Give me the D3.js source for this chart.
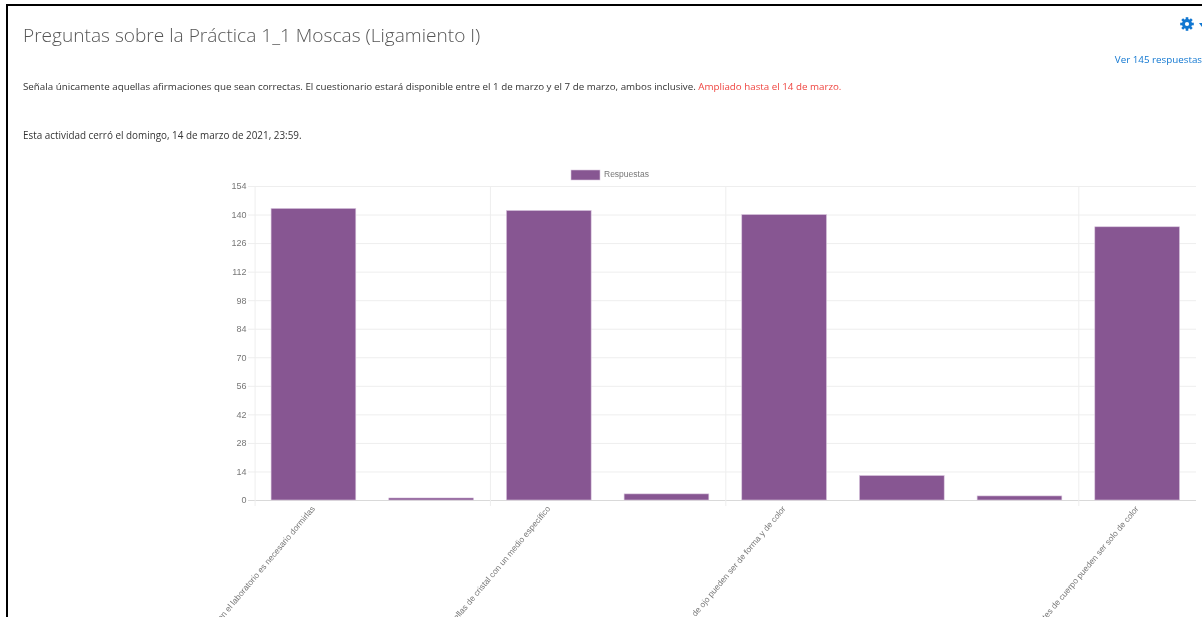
<!DOCTYPE html>
<html>
<head>
<meta charset="utf-8">
<script src="https://d3js.org/d3.v7.min.js"></script>
<style>
    html, body { margin: 0; padding: 0; background: white; overflow: hidden; }
    svg { display: block; filter: blur(0.4px); }
    .page text { font-family: "Open Sans", sans-serif; }
    .chart text { font-family: "Liberation Sans", Arial, sans-serif; fill: #777; }
</style>
</head>
<body>
<div id="chart"></div>
<script>
var categories = ["c1", "c2", "c3", "c4", "c5", "c6", "c7", "c8"];
var respuestas = [143, 1, 142, 3, 140, 12, 2, 134];

// solo estas categorias llevan etiqueta y linea vertical
var labeledCategories = ["c1", "c3", "c5", "c8"];
var categoryLabels = [
    "en el laboratorio es necesario dormirlas",
    "botellas de cristal con un medio específico",
    "de ojo pueden ser de forma y de color",
    "mutantes de cuerpo pueden ser solo de color"
];
var yTicks = [0, 14, 28, 42, 56, 70, 84, 98, 112, 126, 140, 154];
var seriesName = "Respuestas";

var width = 1202;
var height = 617;
var blue = "#1177d1";

var svg = d3.select("#chart")
    .append("svg")
    .attr("width", width)
    .attr("height", height);

// marco negro de la captura
svg.append("rect").attr("x", 6).attr("y", 4).attr("width", width).attr("height", 2).attr("fill", "#000");
svg.append("rect").attr("x", 6).attr("y", 4).attr("width", 2).attr("height", height).attr("fill", "#000");

// cabecera de la pagina
var page = svg.append("g").attr("class", "page");

page.append("text")
    .attr("x", 23).attr("y", 42)
    .attr("font-size", 19.1).attr("font-weight", 300)
    .attr("fill", "#555")
    .text("Preguntas sobre la Práctica 1_1 Moscas (Ligamiento I)");

var intro = page.append("text")
    .attr("x", 23).attr("y", 89.5)
    .attr("font-size", 9.78)
    .attr("fill", "#333");
intro.append("tspan")
    .text("Señala únicamente aquellas afirmaciones que sean correctas. El cuestionario estará disponible entre el 1 de marzo y el 7 de marzo, ambos inclusive. ");
intro.append("tspan")
    .attr("fill", "#ef4540")
    .text("Ampliado hasta el 14 de marzo.");

page.append("text")
    .attr("x", 23).attr("y", 138.5)
    .attr("font-size", 9.88)
    .attr("fill", "#333")
    .text("Esta actividad cerró el domingo, 14 de marzo de 2021, 23:59.");

page.append("text")
    .attr("x", 1202).attr("y", 63)
    .attr("text-anchor", "end")
    .attr("font-size", 9.8)
    .attr("fill", blue)
    .text("Ver 145 respuestas");

// engranaje
var gear = page.append("g").attr("transform", "translate(1187,24)");
gear.selectAll("line")
    .data(d3.range(8))
    .enter()
    .append("line")
    .attr("x2", (d) => 6.8 * Math.cos(d * Math.PI / 4))
    .attr("y2", (d) => 6.8 * Math.sin(d * Math.PI / 4))
    .attr("stroke", blue)
    .attr("stroke-width", 2.6);
gear.append("circle").attr("r", 5).attr("fill", blue);
gear.append("circle").attr("r", 2.1).attr("fill", "white");

page.append("path")
    .attr("d", d3.line()([[1199, 23], [1205, 23], [1202, 27]]))
    .attr("fill", blue);

// grafica
var chart = svg.append("g").attr("class", "chart");

var scaleX = d3.scaleBand()
    .domain(categories)
    .range([254.6, 1196])
    .paddingInner(0.28)
    .paddingOuter(0.14);

var scaleY = d3.scaleLinear()
    .domain([0, 154])
    .range([500, 186]);

var bandLeft = (c) => scaleX(c) - scaleX.step() * 0.14;

// lineas horizontales
chart.append("g")
    .selectAll("line")
    .data(yTicks)
    .enter()
    .append("line")
    .attr("x1", 248)
    .attr("x2", 1196)
    .attr("y1", (d) => scaleY(d) + 0.5)
    .attr("y2", (d) => scaleY(d) + 0.5)
    .attr("stroke", (d) => d == 0 ? "#d9d9d9" : "#eeeeee");

// lineas verticales
chart.append("g")
    .selectAll("line")
    .data(labeledCategories)
    .enter()
    .append("line")
    .attr("x1", (d) => bandLeft(d) + 0.5)
    .attr("x2", (d) => bandLeft(d) + 0.5)
    .attr("y1", 186)
    .attr("y2", 506)
    .attr("stroke", "#eeeeee");

var yAxis = d3.axisLeft(scaleY)
    .tickValues(yTicks)
    .tickSize(0)
    .tickPadding(8);

chart.append("g")
    .attr("transform", "translate(254.6,0)")
    .call(yAxis)
    .call((g) => g.select(".domain").remove())
    .selectAll("text")
    .attr("font-size", 9);

var xAxis = d3.axisBottom(scaleX)
    .tickValues(labeledCategories)
    .tickFormat((d) => categoryLabels[labeledCategories.indexOf(d)])
    .tickSize(0);

chart.append("g")
    .attr("transform", "translate(0,500)")
    .call(xAxis)
    .call((g) => g.select(".domain").remove())
    .selectAll("text")
    .attr("font-size", 8.4)
    .attr("text-anchor", "end")
    .attr("dy", 0)
    .attr("y", 0)
    .attr("transform", "translate(2,9) rotate(-50)");

// barras
chart.append("g")
    .selectAll("rect")
    .data(respuestas)
    .enter()
    .append("rect")
    .attr("x", (d, i) => scaleX(categories[i]))
    .attr("y", (d) => scaleY(d))
    .attr("width", scaleX.bandwidth())
    .attr("height", (d) => scaleY(0) - scaleY(d))
    .attr("fill", "#875692")
    .attr("stroke", "#d9c6de")
    .attr("stroke-width", 0.6);

// leyenda
chart.append("rect")
    .attr("x", 571).attr("y", 170)
    .attr("width", 29).attr("height", 10)
    .attr("fill", "#875692")
    .attr("stroke", "#d9c6de")
    .attr("stroke-width", 0.6);

chart.append("text")
    .attr("x", 604).attr("y", 177)
    .attr("font-size", 8.5)
    .text(seriesName);
</script>
</body>
</html>
